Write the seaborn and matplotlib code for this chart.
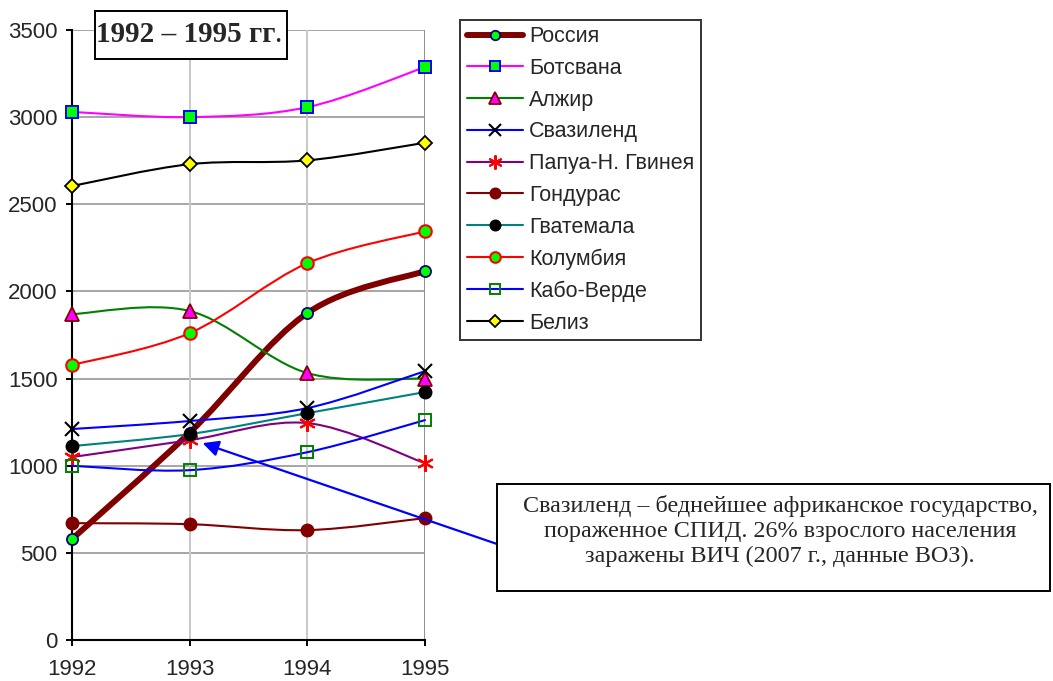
import numpy as np
import pandas as pd
import seaborn as sns
import matplotlib.pyplot as plt
from matplotlib.path import Path
from matplotlib.patches import PathPatch, Rectangle
from matplotlib.lines import Line2D

# Data
years = [1992, 1993, 1994, 1995]
russia = [580, 1190, 1876, 2117]
botswana = [3030, 3000, 3057, 3287]
algeria = [1870, 1888, 1532, 1500]
swaziland = [1211, 1257, 1331, 1543]
papua = [1050, 1147, 1245, 1015]
honduras = [671, 665, 631, 700]
guatemala = [1113, 1182, 1302, 1423]
colombia = [1578, 1761, 2162, 2345]
cabo_verde = [1000, 975, 1078, 1262]
belize = [2605, 2730, 2752, 2853]

names = ['Россия', 'Ботсвана', 'Алжир', 'Свазиленд', 'Папуа-Н. Гвинея',
         'Гондурас', 'Гватемала', 'Колумбия', 'Кабо-Верде', 'Белиз']
series = [russia, botswana, algeria, swaziland, papua,
          honduras, guatemala, colombia, cabo_verde, belize]

# line colour, line width, marker, size, face, edge, edge width
styles = [
    ('#800000', 4.3, 'o', 8, '#00FF00', '#000080', 1.3),
    ('#FF00FF', 1.5, 's', 8.5, '#00FF00', '#0000FF', 1.4),
    ('#008000', 1.5, '^', 10, '#FF00FF', '#800000', 1.3),
    ('#0000FF', 1.5, 'x', 10, 'none', '#000000', 1.5),
    ('#800080', 1.5, (6, 2, 0), 12, 'none', '#FF0000', 1.5),
    ('#800000', 1.5, 'o', 9, '#800000', '#800000', 1.0),
    ('#008080', 1.5, 'o', 9, '#000000', '#000000', 1.0),
    ('#FF0000', 1.5, 'o', 9, '#00FF00', '#FF0000', 1.5),
    ('#0000FF', 1.5, 's', 8.5, 'none', '#008000', 1.4),
    ('#000000', 1.5, 'D', 7.5, '#FFFF00', '#000000', 1.3),
]


def smooth_path(xs, ys):
    # smoothed curve through the points, like Excel's "smoothed line"
    pts = np.column_stack([xs, ys]).astype(float)
    n = len(pts)
    verts = [pts[0]]
    codes = [Path.MOVETO]
    for i in range(n - 1):
        p0 = pts[i - 1] if i > 0 else pts[i]
        p1 = pts[i]
        p2 = pts[i + 1]
        p3 = pts[i + 2] if i + 2 < n else pts[i + 1]
        verts += [p1 + (p2 - p0) / 6, p2 - (p3 - p1) / 6, p2]
        codes += [Path.CURVE4] * 3
    return Path(verts, codes)


sns.set_style('white')
plt.rcParams['font.family'] = ['Liberation Sans', 'DejaVu Sans']

fig = plt.figure(figsize=(10.53, 6.81), dpi=100)
ax = fig.add_axes([0.0684, 0.060, 0.3352, 0.896])

for i, (name, vals, st) in enumerate(zip(names, series, styles)):
    lc, lw, mk, ms, mfc, mec, mew = st
    ax.add_patch(PathPatch(smooth_path(years, vals), facecolor='none',
                           edgecolor=lc, lw=lw, zorder=3 + i * 0.1,
                           capstyle='round', clip_on=False))
    df = pd.DataFrame({'year': years, 'value': vals})
    sns.lineplot(data=df, x='year', y='value', ax=ax, linestyle='none',
                 marker=mk, markersize=ms, markerfacecolor=mfc,
                 markeredgecolor=mec, markeredgewidth=mew, color=lc,
                 zorder=3.05 + i * 0.1, legend=False, clip_on=False)

ax.set_xlim(1992, 1995)
ax.set_ylim(0, 3500)
ax.set_xticks(years)
ax.set_xticklabels([str(y) for y in years])
ax.set_yticks(range(0, 3501, 500))
ax.set_xlabel('')
ax.set_ylabel('')

for y in range(500, 3501, 500):
    ax.axhline(y, color='#a6a6a6', lw=1.4, zorder=1)
for x in years[1:3]:
    ax.axvline(x, color='#c8c8c8', lw=1.4, zorder=1)
ax.axvline(1995, color='#909090', lw=1.4, zorder=1)

for s in ['top', 'right']:
    ax.spines[s].set_visible(False)
for s in ['left', 'bottom']:
    ax.spines[s].set_color('black')
    ax.spines[s].set_linewidth(1.5)
    ax.spines[s].set_zorder(2)

ax.tick_params(axis='both', direction='out', length=4.5, width=1.4,
               color='black', labelsize=16, left=True, bottom=True)
ax.tick_params(axis='x', pad=9)
ax.tick_params(axis='y', pad=6)

# legend
handles = [Line2D([], [], color=st[0], lw=st[1], marker=st[2],
                  markersize=st[3] * 0.85, markerfacecolor=st[4],
                  markeredgecolor=st[5], markeredgewidth=st[6])
           for st in styles]
leg = fig.legend(handles, names, loc='upper left',
                 bbox_to_anchor=(0.437, 0.971), fontsize=15.5,
                 frameon=True, fancybox=False, edgecolor='black',
                 handlelength=2.6, labelspacing=0.5, borderpad=0.3,
                 handletextpad=0.3, borderaxespad=0)
leg.get_frame().set_linewidth(1.4)

# title box
fig.add_artist(Rectangle((95 / 1053, 1 - 59 / 681), 192 / 1053, 48 / 681,
                         transform=fig.transFigure, facecolor='white',
                         edgecolor='black', lw=1.4, zorder=10))
fig.text(186 / 1053, 1 - 35 / 681, '1992 – 1995 гг', ha='center',
         va='center', fontsize=21, fontweight='bold',
         family=['Liberation Serif', 'DejaVu Serif'], zorder=11)
fig.text(274 / 1053, 1 - 35 / 681, '.', ha='left', va='center',
         fontsize=21, family=['Liberation Serif', 'DejaVu Serif'], zorder=11)

# note box with arrow
ax.annotate('', xy=(1993.11, 1130), xycoords='data',
            xytext=(497 / 1053, 1 - 544 / 681), textcoords='figure fraction',
            arrowprops=dict(arrowstyle='-|>', color='#0000FF', lw=1.6,
                            mutation_scale=24, shrinkA=0, shrinkB=0),
            zorder=9)
fig.add_artist(Rectangle((497 / 1053, 1 - 591 / 681), 553 / 1053, 107 / 681,
                         transform=fig.transFigure, facecolor='white',
                         edgecolor='black', lw=1.4, zorder=10))
fig.text(780 / 1053, 1 - 531 / 681,
         'Свазиленд – беднейшее африканское государство,\n'
         'пораженное СПИД. 26% взрослого населения\n'
         'заражены ВИЧ (2007 г., данные ВОЗ).',
         ha='center', va='center', fontsize=17.4, linespacing=1.25,
         family=['Liberation Serif', 'DejaVu Serif'], zorder=11)

fig.savefig('out.png', dpi=100)
